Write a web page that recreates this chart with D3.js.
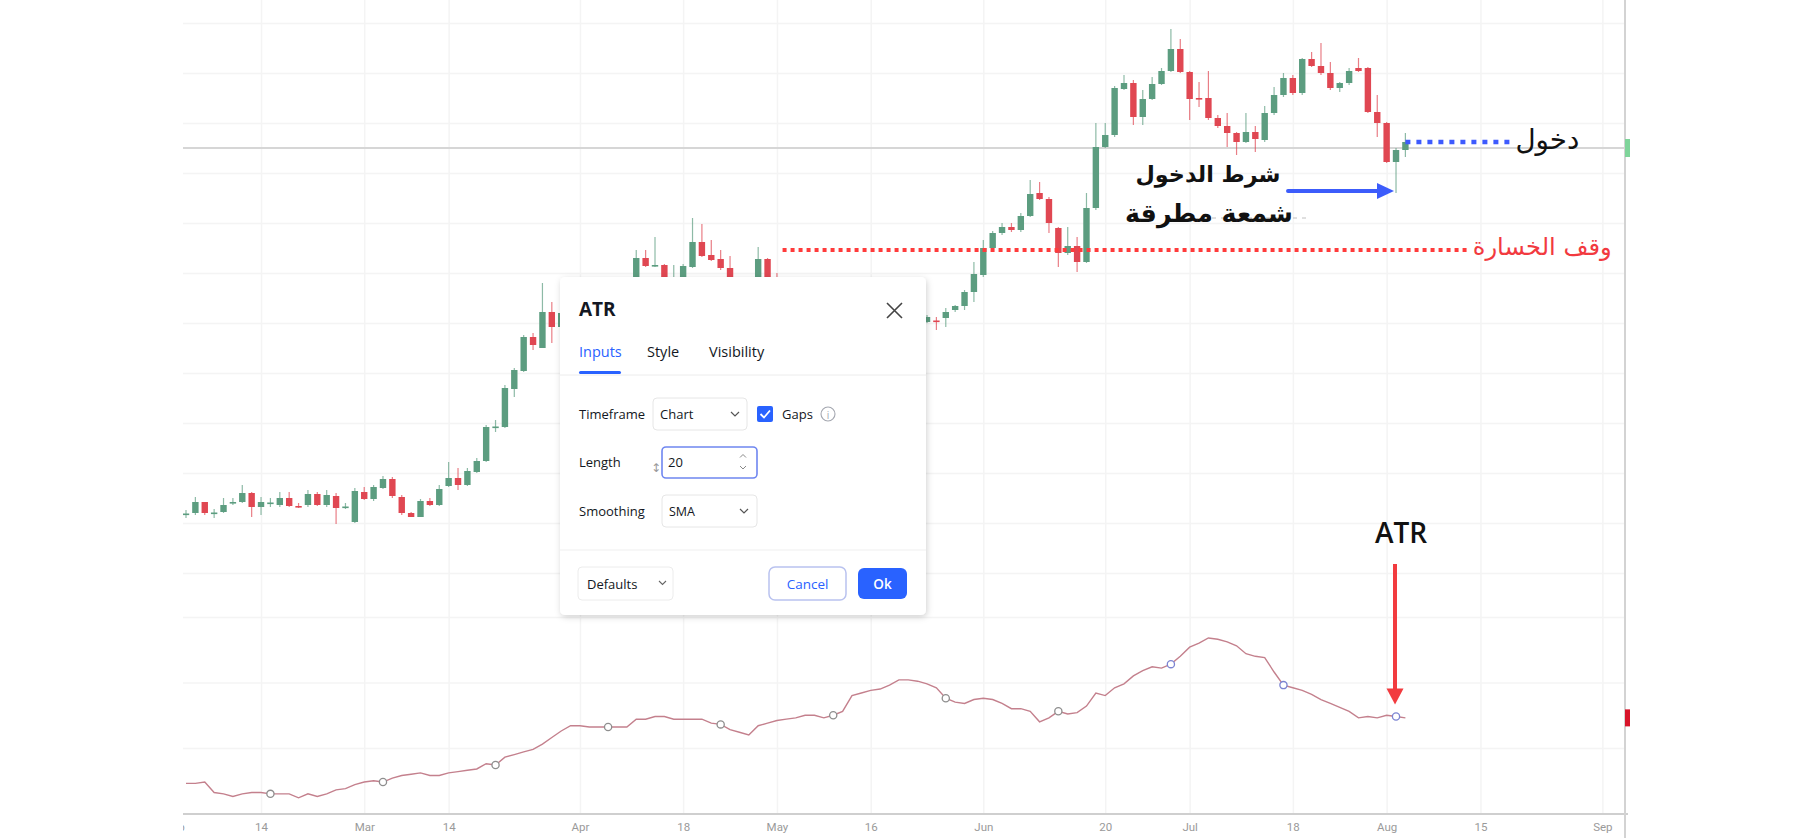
<!DOCTYPE html>
<html><head><meta charset="utf-8">
<script src="https://cdn.jsdelivr.net/npm/d3@7"></script>
<style>
html,body{margin:0;padding:0;background:#fff;overflow:hidden;}
svg{display:block;}
</style></head>
<body>
<svg id="chart" width="1812" height="838"></svg>
<script>
// ---------------- DATA ----------------
const open  = [10.9,11.0,12.1,11.0,11.1,12.05,12.1,13.0,11.6,12.0,11.8,12.5,11.7,11.8,12.9,11.8,12.7,11.6,10.1,13.1,
  12.4,13.5,14.4,12.6,11.0,10.6,12.2,11.8,13.7,14.5,13.8,15.1,16.2,19.6,19.6,23.4,25.2,28.6,27.5,31.1,
  29.6,31.0,32.2,31.3,32.6,33.4,32.7,33.5,33.8,36.5,35.7,35.8,34.2,34.4,35.6,38.1,36.8,36.4,35.5,34.3,
  33.4,33.9,36.4,34.0,33.6,33.0,33.6,33.2,32.3,32.9,32.5,32.1,29.0,30.0,29.6,30.3,31.0,29.8,30.5,30.1,
  30.25,30.5,31.3,31.7,33.1,34.8,37.5,39.0,39.6,39.3,40.7,43.0,42.4,39.5,37.0,37.7,36.1,41.5,47.6,48.8,
  53.4,54.0,50.6,52.4,53.9,55.2,57.4,55.1,52.5,52.5,50.5,49.7,49.0,48.1,49.1,48.3,51.0,52.8,54.5,53.0,
  56.4,55.7,55.0,53.5,54.0,55.5,55.5,51.1,50.0,46.1,47.3];
const high  = [11.3,12.6,12.1,11.4,12.5,12.5,13.8,13.1,12.6,12.5,13.1,13.1,12.0,13.3,13.1,13.3,13.0,12.0,13.5,13.6,
  13.8,14.7,14.6,12.8,11.1,12.4,12.5,13.8,16.1,15.5,15.5,16.5,19.8,20.3,23.8,25.5,28.8,29.0,34.0,32.1,
  31.5,32.6,32.9,33.0,33.8,33.9,33.9,34.1,37.3,37.3,38.6,35.9,35.8,35.9,40.5,39.9,38.3,37.3,36.7,34.4,
  34.2,37.6,36.5,35.0,34.2,33.9,34.3,33.6,33.2,33.5,33.0,32.4,30.3,30.8,30.6,31.4,31.5,30.9,30.9,30.8,
  30.6,31.5,31.8,33.3,36.1,38.3,39.2,40.0,40.0,41.0,44.3,44.1,42.6,39.6,39.6,38.6,43.0,50.0,50.0,53.7,
  54.8,54.3,53.3,54.6,55.5,59.4,58.4,55.2,54.1,55.2,50.8,51.0,49.1,51.0,49.7,51.7,53.6,55.0,54.8,56.5,
  57.1,58.0,56.1,54.1,55.5,56.5,55.6,52.8,50.1,47.5,49.0];
const low   = [10.5,10.8,10.8,10.5,11.0,11.8,12.0,10.6,10.8,11.6,11.6,11.6,11.5,11.6,11.7,11.6,9.9,11.4,10.0,12.3,
  12.2,13.4,12.5,10.8,10.6,10.6,11.7,11.7,13.6,13.3,13.7,15.0,16.1,19.1,19.5,22.6,25.1,27.3,27.5,28.0,
  29.0,30.4,30.8,30.9,32.0,32.3,32.4,33.0,33.5,35.6,35.6,33.8,33.9,34.0,35.5,36.6,36.2,35.3,34.0,33.0,
  32.8,33.6,33.7,33.2,32.6,32.5,33.0,32.0,31.9,32.2,31.8,28.6,28.5,29.3,29.0,29.8,29.5,29.4,29.6,30.0,
  29.3,29.6,31.1,31.3,32.1,34.6,37.3,38.8,39.1,39.1,40.6,42.3,39.0,35.6,36.8,35.1,36.0,41.3,47.5,48.6,
  53.3,49.8,49.8,52.3,53.8,55.1,55.0,50.3,51.6,50.3,49.5,47.6,46.8,48.0,47.1,48.1,50.8,52.6,52.8,52.8,
  55.6,54.8,53.3,53.1,53.8,55.1,51.0,48.6,46.0,43.0,46.6];
const close = [10.95,12.1,11.0,11.05,11.8,12.1,13.0,11.6,12.1,12.05,12.5,11.7,11.6,12.9,11.8,12.8,11.5,11.65,13.2,12.4,
  13.6,14.4,12.7,11.0,10.6,12.2,11.8,13.4,14.5,13.8,15.2,16.2,19.6,19.65,23.5,25.3,28.6,27.8,31.1,29.6,
  31.0,32.2,31.3,32.6,33.4,32.7,33.5,33.8,36.5,35.7,35.8,34.2,34.6,35.7,38.1,36.7,36.3,35.5,34.3,33.4,
  33.9,36.4,34.0,33.6,33.0,33.6,33.2,32.3,32.9,32.5,32.1,29.0,30.0,29.6,30.3,31.0,29.8,30.5,30.1,30.6,
  30.2,31.1,31.7,33.1,34.9,37.5,39.0,39.6,39.3,40.7,42.9,42.4,40.0,37.0,37.7,36.1,41.5,47.6,48.8,53.5,
  54.0,50.6,52.4,53.9,55.2,57.4,55.1,52.4,52.45,50.5,49.7,49.0,48.1,49.1,48.4,51.0,52.8,54.5,53.0,56.4,
  55.7,55.0,53.5,54.0,55.2,55.2,51.1,50.0,46.1,47.3,48.1];
const atr = [0.73,0.73,0.74,0.66,0.65,0.63,0.65,0.66,0.66,0.65,0.65,0.65,0.62,0.65,0.63,0.65,0.68,0.69,0.72,0.74,
  0.75,0.74,0.77,0.79,0.80,0.81,0.79,0.79,0.81,0.82,0.83,0.84,0.88,0.87,0.93,0.95,0.97,0.99,1.03,1.08,
  1.13,1.17,1.17,1.16,1.16,1.16,1.16,1.16,1.22,1.22,1.24,1.24,1.22,1.22,1.22,1.22,1.19,1.18,1.14,1.12,
  1.10,1.17,1.19,1.21,1.22,1.23,1.25,1.25,1.23,1.25,1.28,1.40,1.42,1.44,1.45,1.48,1.52,1.52,1.51,1.49,
  1.46,1.38,1.35,1.34,1.37,1.38,1.37,1.34,1.30,1.30,1.28,1.20,1.23,1.28,1.26,1.27,1.32,1.42,1.40,1.46,
  1.49,1.55,1.59,1.62,1.61,1.64,1.70,1.77,1.80,1.84,1.83,1.81,1.78,1.72,1.70,1.69,1.58,1.48,1.46,1.44,
  1.41,1.37,1.34,1.31,1.28,1.23,1.24,1.23,1.25,1.24,1.23];
const atrMarkerIdx = [9,21,33,45,57,69,81,93,105,117,129];
const tickIdx    = [-1.2,8,19,28,42,53,63,73,85,98,107,118,128,138,151];
const tickLabels = ["Feb","14","Mar","14","Apr","18","May","16","Jun","20","Jul","18","Aug","15","Sep"];
const priceGrid  = [5,10,15,20,25,30,35,40,45,50,55,60];
const atrGrid    = [1.0,1.5,2.0];
const levelPrice = 47.5;                 // grey horizontal line
const stopPrice  = 37.3, stopFrom = 63.6, stopTo = 136.7;
const entryPrice = 48.1, entryFrom = 130, entryTo = 141.3;
const hammerIdx  = 129;
const labelStop  = "وقف الخسارة";
const labelEntry = "دخول";
const labelCond1 = "شرط الدخول";
const labelCond2 = "شمعة مطرقة";
const labelATR   = "ATR";

// ---------------- LAYOUT ----------------
const plotLeft = 183, plotRight = 1625, axisY = 814;
const x  = d3.scaleLinear().domain([0,130]).range([186, 186 + 130*9.38]);
const y  = d3.scaleLinear().domain([10,60]).range([523,23]);
const ya = d3.scaleLinear().domain([1,2]).range([748,617]);
const GREEN = "#5c9d80", RED = "#e04752", BLUE = "#3c5cfb", ARED = "#f23b3f";
const GRID = "#f4f4f4";

const svg = d3.select("#chart");
const defs = svg.append("defs");
defs.append("clipPath").attr("id","plot").append("rect")
  .attr("x",plotLeft).attr("y",0).attr("width",plotRight-plotLeft).attr("height",axisY);
defs.append("clipPath").attr("id","axisclip").append("rect")
  .attr("x",plotLeft).attr("y",axisY).attr("width",plotRight-plotLeft).attr("height",838-axisY);
const f = defs.append("filter").attr("id","shadow").attr("x","-10%").attr("y","-10%").attr("width","120%").attr("height","120%");
f.append("feDropShadow").attr("dx",1).attr("dy",2).attr("stdDeviation",3).attr("flood-color","#000").attr("flood-opacity",0.18);

function fitWidth(sel, target){
  const w = sel.node().getComputedTextLength();
  const fs = parseFloat(sel.attr("font-size"));
  if (w > 0) sel.attr("font-size", (fs*target/w).toFixed(2) + "px");
  return sel;
}

// grid
const grid = svg.append("g").attr("clip-path","url(#plot)");
grid.append("g").attr("transform",`translate(0,${axisY})`)
  .call(d3.axisBottom(x).tickValues(tickIdx).tickSize(-axisY).tickFormat(""))
  .call(g=>g.select(".domain").remove())
  .call(g=>g.selectAll("line").attr("stroke",GRID).attr("stroke-width",1.5));
grid.append("g").attr("transform",`translate(${plotLeft},0)`)
  .call(d3.axisLeft(y).tickValues(priceGrid).tickSize(-(plotRight-plotLeft)).tickFormat(""))
  .call(g=>g.select(".domain").remove())
  .call(g=>g.selectAll("line").attr("stroke",GRID).attr("stroke-width",1.5));
grid.append("g").attr("transform",`translate(${plotLeft},0)`)
  .call(d3.axisLeft(ya).tickValues(atrGrid).tickSize(-(plotRight-plotLeft)).tickFormat(""))
  .call(g=>g.select(".domain").remove())
  .call(g=>g.selectAll("line").attr("stroke",GRID).attr("stroke-width",1.5));

// grey level line
svg.append("line").attr("x1",plotLeft).attr("x2",plotRight)
  .attr("y1",y(levelPrice)).attr("y2",y(levelPrice))
  .attr("stroke","#d6d6d6").attr("stroke-width",1.8);

// candles
const candles = d3.range(open.length).map(i=>({i,o:open[i],h:high[i],l:low[i],c:close[i]}));
const cg = svg.append("g").attr("clip-path","url(#plot)");
cg.selectAll("line.wick").data(candles).join("line").attr("class","wick")
  .attr("x1",d=>x(d.i)).attr("x2",d=>x(d.i))
  .attr("y1",d=>y(d.h)).attr("y2",d=>y(d.l))
  .attr("stroke",d=>d.c>=d.o?GREEN:RED).attr("stroke-opacity",0.7).attr("stroke-width",1.2);
cg.selectAll("rect.body").data(candles).join("rect").attr("class","body")
  .attr("x",d=>x(d.i)-3.2).attr("width",6.4)
  .attr("y",d=>y(Math.max(d.o,d.c)))
  .attr("height",d=>Math.max(1.6, Math.abs(y(d.o)-y(d.c))))
  .attr("fill",d=>d.c>=d.o?GREEN:RED);

// ATR line
const ag = svg.append("g").attr("clip-path","url(#plot)");
ag.append("path").datum(atr)
  .attr("d", d3.line().x((d,i)=>x(i)).y(d=>ya(d)))
  .attr("fill","none").attr("stroke","#c4808d").attr("stroke-width",1.4);
ag.selectAll("circle").data(atrMarkerIdx).join("circle")
  .attr("cx",i=>x(i)).attr("cy",i=>ya(atr[i])).attr("r",3.6)
  .attr("fill","#fff").attr("stroke",i=>i>=105?"#7c84d2":"#8e8e8e").attr("stroke-width",1.3);

// x axis
svg.append("line").attr("x1",plotLeft).attr("x2",plotRight+3).attr("y1",axisY).attr("y2",axisY)
  .attr("stroke","#cfcfcf").attr("stroke-width",2);
svg.append("g").attr("clip-path","url(#axisclip)")
  .append("g").attr("transform",`translate(0,${axisY})`)
  .call(d3.axisBottom(x).tickValues(tickIdx).tickSize(0).tickPadding(9).tickFormat((d,i)=>tickLabels[i]))
  .call(g=>g.select(".domain").remove())
  .call(g=>g.selectAll("text").attr("fill","#9a9a9a").attr("font-size","11.5px").attr("font-family","Roboto, sans-serif"));

// right border + price tags
svg.append("line").attr("x1",plotRight).attr("x2",plotRight).attr("y1",0).attr("y2",838)
  .attr("stroke","#d3d3d3").attr("stroke-width",2);
svg.append("rect").attr("x",plotRight).attr("y",y(levelPrice)-9).attr("width",5).attr("height",18).attr("fill","#7fd49a");
svg.append("rect").attr("x",plotRight).attr("y",ya(atr[atr.length-1])-8.5).attr("width",5).attr("height",17).attr("fill","#d8142a");

// ---------------- ANNOTATIONS ----------------
const AR = "'DejaVu Sans', sans-serif";
// stop loss dotted
svg.append("line").attr("x1",x(stopFrom)).attr("x2",x(stopTo)).attr("y1",y(stopPrice)).attr("y2",y(stopPrice))
  .attr("stroke","#ff3b3b").attr("stroke-width",4).attr("stroke-dasharray","4 4");
fitWidth(svg.append("text").attr("x",x(stopTo)+74).attr("y",y(stopPrice)+5)
  .attr("text-anchor","middle").attr("fill","#f23a3f")
  .attr("font-family",AR).attr("font-size","24px")
  .text(labelStop), 139);
// entry dotted
svg.append("line").attr("x1",x(entryFrom)).attr("x2",x(entryTo)).attr("y1",y(entryPrice)).attr("y2",y(entryPrice))
  .attr("stroke","#3d5afe").attr("stroke-width",4.5).attr("stroke-dasharray","5 6");
fitWidth(svg.append("text").attr("x",x(entryTo)+36).attr("y",y(entryPrice)+7)
  .attr("text-anchor","middle").attr("fill","#111")
  .attr("font-family",AR).attr("font-size","26px")
  .text(labelEntry), 64);

// condition text
svg.append("line").attr("x1",1212).attr("x2",1308).attr("y1",218).attr("y2",218)
  .attr("stroke","#c0c0c0").attr("stroke-width",1).attr("stroke-dasharray","4 5");
fitWidth(svg.append("text").attr("x",1208).attr("y",182).attr("text-anchor","middle").attr("fill","#111")
  .attr("font-family",AR).attr("font-weight","bold").attr("font-size","26px")
  .text(labelCond1), 145);
fitWidth(svg.append("text").attr("x",1209).attr("y",222).attr("text-anchor","middle").attr("fill","#111")
  .attr("font-family",AR).attr("font-weight","bold").attr("font-size","26px")
  .text(labelCond2), 168);

// blue arrow to hammer
const bx = x(hammerIdx)-2, by = y(low[hammerIdx])-2;
svg.append("line").attr("x1",bx-106).attr("x2",bx-14).attr("y1",by).attr("y2",by)
  .attr("stroke",BLUE).attr("stroke-width",4).attr("stroke-linecap","round");
svg.append("path").attr("d",`M${bx},${by} L${bx-17},${by-8} L${bx-17},${by+8} Z`).attr("fill",BLUE);

// ATR label + red arrow
const rx = x(hammerIdx)-1, ry = ya(atr[hammerIdx])-12;
svg.append("text").attr("x",rx+6).attr("y",543).attr("text-anchor","middle").attr("fill","#111")
  .attr("font-family","'Open Sans', sans-serif").attr("font-weight","600").attr("font-size","28px").text(labelATR);
svg.append("line").attr("x1",rx).attr("x2",rx).attr("y1",564).attr("y2",ry-14)
  .attr("stroke",ARED).attr("stroke-width",4);
svg.append("path").attr("d",`M${rx},${ry} L${rx-8.5},${ry-16} L${rx+8.5},${ry-16} Z`).attr("fill",ARED);

// ---------------- DIALOG ----------------
const dlg = svg.append("g").attr("font-family","'Open Sans', sans-serif");
dlg.append("rect").attr("x",560).attr("y",277).attr("width",366).attr("height",338).attr("rx",5)
  .attr("fill","#fff").attr("filter","url(#shadow)");
dlg.append("text").attr("x",579).attr("y",316).attr("font-size","19px").attr("font-weight","700").attr("fill","#131722").text("ATR");
dlg.append("path").attr("d","M887,303 L902,318 M902,303 L887,318").attr("stroke","#444").attr("stroke-width",1.6);
dlg.append("text").attr("x",579).attr("y",357).attr("font-size","14.5px").attr("fill","#2962ff").text("Inputs");
dlg.append("text").attr("x",647).attr("y",357).attr("font-size","14.5px").attr("fill","#131722").text("Style");
dlg.append("text").attr("x",709).attr("y",357).attr("font-size","14.5px").attr("fill","#131722").text("Visibility");
dlg.append("rect").attr("x",579).attr("y",371).attr("width",42).attr("height",3).attr("rx",1.5).attr("fill","#2962ff");
dlg.append("line").attr("x1",560).attr("x2",926).attr("y1",375).attr("y2",375).attr("stroke","#ececec");
// row 1
dlg.append("text").attr("x",579).attr("y",419).attr("font-size","13px").attr("fill","#131722").text("Timeframe");
dlg.append("rect").attr("x",653).attr("y",398).attr("width",94).attr("height",32).attr("rx",4).attr("fill","#fff").attr("stroke","#e6e6e6");
dlg.append("text").attr("x",660).attr("y",419).attr("font-size","13px").attr("fill","#131722").text("Chart");
dlg.append("path").attr("d","M731,412 L735,416 L739,412").attr("fill","none").attr("stroke","#555").attr("stroke-width",1.2);
dlg.append("rect").attr("x",757).attr("y",406).attr("width",16).attr("height",16).attr("rx",2).attr("fill","#2962ff");
dlg.append("path").attr("d","M760.5,414 L764,417.5 L770,410.5").attr("fill","none").attr("stroke","#fff").attr("stroke-width",1.8);
dlg.append("text").attr("x",782).attr("y",419).attr("font-size","13px").attr("fill","#131722").text("Gaps");
dlg.append("circle").attr("cx",828).attr("cy",414).attr("r",7).attr("fill","none").attr("stroke","#a3a6af").attr("stroke-width",1.1);
dlg.append("text").attr("x",828).attr("y",418.5).attr("text-anchor","middle").attr("font-size","10px").attr("fill","#a3a6af").text("i");
// row 2
dlg.append("text").attr("x",579).attr("y",467).attr("font-size","13px").attr("fill","#131722").text("Length");
dlg.append("text").attr("x",656).attr("y",472).attr("text-anchor","middle").attr("font-size","12px").attr("fill","#999").attr("font-family","'DejaVu Sans', sans-serif").text("↕");
dlg.append("rect").attr("x",662).attr("y",447).attr("width",95).attr("height",31).attr("rx",4).attr("fill","#fff").attr("stroke","#6f86f0").attr("stroke-width",1.6);
dlg.append("text").attr("x",668).attr("y",467).attr("font-size","13px").attr("fill","#131722").text("20");
dlg.append("path").attr("d","M740,457.5 L743,454.5 L746,457.5 M740,466 L743,469 L746,466").attr("fill","none").attr("stroke","#888").attr("stroke-width",1);
// row 3
dlg.append("text").attr("x",579).attr("y",516).attr("font-size","13px").attr("fill","#131722").text("Smoothing");
dlg.append("rect").attr("x",662).attr("y",495).attr("width",95).attr("height",32).attr("rx",4).attr("fill","#fff").attr("stroke","#e6e6e6");
dlg.append("text").attr("x",669).attr("y",516).attr("font-size","12.5px").attr("fill","#131722").text("SMA");
dlg.append("path").attr("d","M740,509 L744,513 L748,509").attr("fill","none").attr("stroke","#555").attr("stroke-width",1.2);
dlg.append("line").attr("x1",560).attr("x2",926).attr("y1",550).attr("y2",550).attr("stroke","#efefef");
// footer
dlg.append("rect").attr("x",578).attr("y",567).attr("width",95).attr("height",33).attr("rx",4).attr("fill","#fff").attr("stroke","#ececec");
dlg.append("text").attr("x",587).attr("y",589).attr("font-size","13px").attr("fill","#131722").text("Defaults");
dlg.append("path").attr("d","M659,581 L662.5,584.5 L666,581").attr("fill","none").attr("stroke","#666").attr("stroke-width",1.1);
dlg.append("rect").attr("x",769).attr("y",567).attr("width",77).attr("height",33).attr("rx",6).attr("fill","#fff").attr("stroke","#b9c2ef").attr("stroke-width",1.5);
dlg.append("text").attr("x",807.5).attr("y",589).attr("text-anchor","middle").attr("font-size","13.5px").attr("fill","#2962ff").text("Cancel");
dlg.append("rect").attr("x",858).attr("y",568).attr("width",49).attr("height",31).attr("rx",6).attr("fill","#2962ff");
dlg.append("text").attr("x",882.5).attr("y",589).attr("text-anchor","middle").attr("font-size","13.5px").attr("font-weight","600").attr("fill","#fff").text("Ok");
</script>
</body></html>
